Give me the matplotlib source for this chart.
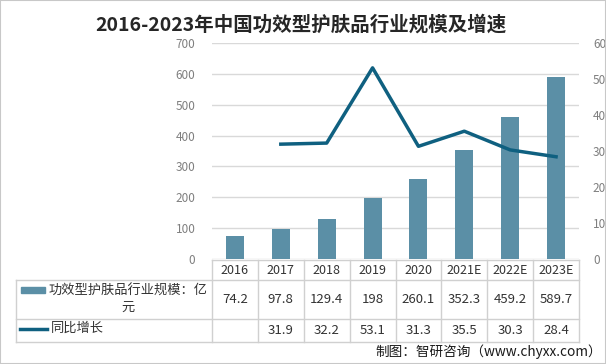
import matplotlib
matplotlib.use("Agg")
from matplotlib import pyplot as plt
from matplotlib.lines import Line2D
from matplotlib.patches import Rectangle

plt.rcParams['font.family'] = ['Noto Sans CJK SC', 'DejaVu Sans']

# data
years = ['2016', '2017', '2018', '2019', '2020', '2021E', '2022E', '2023E']
scale = [74.2, 97.8, 129.4, 198, 260.1, 352.3, 459.2, 589.7]
growth = [None, 31.9, 32.2, 53.1, 31.3, 35.5, 30.3, 28.4]
scale_label = '功效型护肤品行业规模：亿\n元'
growth_label = '同比增长'

W, H = 606, 364
bar_c = '#5b8fa6'
line_c = '#0f6080'
grid_c = '#d9d9d9'
tick_c = '#7f7f7f'
txt_c = '#333333'


def fx(px):
    return px / W


def fy(py):
    return 1 - py / H


fig = plt.figure(figsize=(W / 100, H / 100), dpi=100)
ax = fig.add_axes([fx(212), fy(259), fx(579) - fx(212), fy(43) - fy(259)])
x = list(range(len(years)))
ax.bar(x, scale, width=0.39, color=bar_c, zorder=2)
ax.set_xlim(-0.5, len(years) - 0.5)
ax.set_ylim(0, 700)
ax.set_yticks(range(0, 701, 100))
ax.grid(axis='y', color=grid_c, lw=1, zorder=0)
ax.set_xticks([])
for s in ax.spines.values():
    s.set_visible(False)
ax.tick_params(axis='y', length=0, labelsize=8.5, labelcolor=tick_c, pad=12)

ax2 = ax.twinx()
gx = [i for i, g in zip(x, growth) if g is not None]
gy = [g for g in growth if g is not None]
ax2.plot(gx, gy, color=line_c, lw=2.5, zorder=3)
ax2.set_ylim(0, 60)
ax2.set_yticks(range(0, 61, 10))
for s in ax2.spines.values():
    s.set_visible(False)
ax2.tick_params(axis='y', length=0, labelsize=8.5, labelcolor=tick_c, pad=10)

fig.text(fx(301), fy(25), '2016-2023年中国功效型护肤品行业规模及增速',
         ha='center', va='center', fontsize=14, fontweight='bold', color='#262626')

# data table
tc = '#d0d0d0'
rows = [260, 280, 319, 342]
col_w = (579 - 212) / len(years)
cols = [212 + i * col_w for i in range(len(years) + 1)]
for i, ry in enumerate(rows):
    x0 = 212 if i == 0 else 16
    fig.add_artist(Line2D([fx(x0), fx(579)], [fy(ry), fy(ry)], color=tc, lw=1))
for cx in cols:
    fig.add_artist(Line2D([fx(cx), fx(cx)], [fy(260), fy(342)], color=tc, lw=1))
fig.add_artist(Line2D([fx(16), fx(16)], [fy(280), fy(342)], color=tc, lw=1))

for i, yr in enumerate(years):
    cx = (cols[i] + cols[i + 1]) / 2
    fig.text(fx(cx), fy(270), yr, ha='center', va='center', fontsize=9, color=txt_c)
    fig.text(fx(cx), fy(299.5), f'{scale[i]:g}', ha='center', va='center',
             fontsize=9.5, color=txt_c)
    if growth[i] is not None:
        fig.text(fx(cx), fy(330.5), f'{growth[i]:g}', ha='center', va='center',
                 fontsize=9.5, color=txt_c)

fig.add_artist(Rectangle((fx(21), fy(293)), fx(45) - fx(21), fy(287) - fy(293),
                         color=bar_c))
fig.text(fx(128), fy(299.5), scale_label, ha='center', va='center',
         fontsize=9.5, color=txt_c, linespacing=1.35)
fig.add_artist(Line2D([fx(20), fx(47)], [fy(329), fy(329)], color=line_c, lw=2.5))
fig.text(fx(51), fy(328), growth_label, ha='left', va='center', fontsize=9.5, color=txt_c)

fig.text(fx(602), fy(352), '制图：智研咨询（www.chyxx.com）', ha='right', va='center',
         fontsize=9.8, color='#1a1a1a')

fig.add_artist(Rectangle((0, 0), 1, 1, fill=False, ec='#c8c8c8', lw=1.5,
                         transform=fig.transFigure))

fig.savefig('out.png', dpi=100)
